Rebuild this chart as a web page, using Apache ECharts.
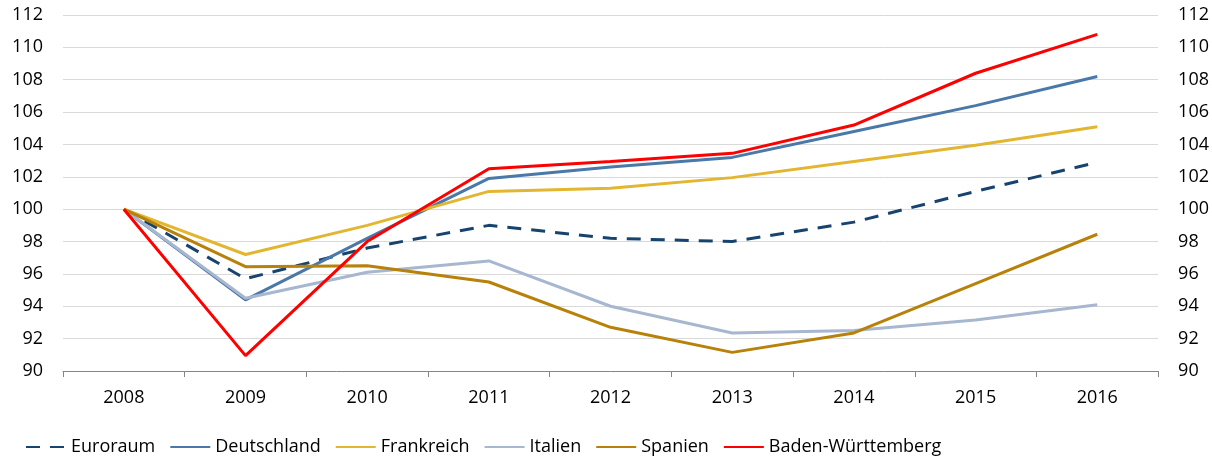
<!doctype html>
<html>
    <head>
        <meta charset="utf-8">
        <title>Wachstum</title>
        <style>
            html, body { margin: 0; padding: 0; background: #fff; }
            #main { width: 1212px; height: 456px; }
        </style>
    </head>
    <body>
        <div id="main"></div>
        <script src="https://cdn.jsdelivr.net/npm/echarts@6/dist/echarts.min.js"></script>
        <script>
            var years = ['2008', '2009', '2010', '2011', '2012', '2013', '2014', '2015', '2016'];

            var euroraum = [100, 95.7, 97.6, 99.0, 98.2, 98.0, 99.2, 101.1, 102.9];
            var deutschland = [100, 94.4, 98.2, 101.9, 102.6, 103.2, 104.8, 106.4, 108.2];
            var frankreich = [100, 97.2, 99.0, 101.1, 101.3, 101.95, 102.95, 103.95, 105.1];
            var italien = [100, 94.5, 96.1, 96.8, 94.0, 92.35, 92.5, 93.15, 94.1];
            var spanien = [100, 96.45, 96.5, 95.5, 92.7, 91.15, 92.35, 95.4, 98.45];
            var badenWuerttemberg = [100, 90.95, 98.0, 102.5, 102.95, 103.45, 105.2, 108.4, 110.8];

            var chart = echarts.init(document.getElementById('main'));

            var font = 'Open Sans';

            function line(name, data, color, type) {
                return {
                    name: name,
                    type: 'line',
                    data: data,
                    symbol: 'none',
                    lineStyle: { color: color, width: 3, type: type || 'solid' },
                    itemStyle: { color: color },
                    emphasis: { disabled: true }
                };
            }

            var yLabel = { color: '#000', fontFamily: font, fontSize: 18, margin: 20 };

            chart.setOption({
                animation: false,
                grid: { left: 63, right: 53, top: 15, bottom: 85 },
                legend: {
                    left: 20,
                    top: 433,
                    itemWidth: 40,
                    itemHeight: 12,
                    itemGap: 14,
                    itemStyle: { opacity: 0 },
                    textStyle: { color: '#000', fontFamily: font, fontSize: 18 },
                    data: ['Euroraum', 'Deutschland', 'Frankreich', 'Italien', 'Spanien', 'Baden-Württemberg']
                },
                xAxis: {
                    type: 'category',
                    data: years,
                    boundaryGap: true,
                    axisLine: { lineStyle: { color: '#868686', width: 1 } },
                    axisTick: { show: true, length: 6, lineStyle: { color: '#868686' } },
                    axisLabel: { color: '#000', fontFamily: font, fontSize: 18, margin: 18 }
                },
                yAxis: [{
                    type: 'value',
                    min: 90,
                    max: 112,
                    interval: 2,
                    axisLine: { show: false },
                    axisTick: { show: false },
                    axisLabel: yLabel,
                    splitLine: { lineStyle: { color: '#d9d9d9', width: 1 } }
                }, {
                    type: 'value',
                    position: 'right',
                    min: 90,
                    max: 112,
                    interval: 2,
                    axisLine: { show: false },
                    axisTick: { show: false },
                    axisLabel: yLabel,
                    splitLine: { show: false }
                }],
                series: [
                    line('Euroraum', euroraum, '#17436f', [14, 10]),
                    line('Deutschland', deutschland, '#4a78a8'),
                    line('Frankreich', frankreich, '#e3b631'),
                    line('Italien', italien, '#a6b7cf'),
                    line('Spanien', spanien, '#b7810a'),
                    line('Baden-Württemberg', badenWuerttemberg, '#ff0000')
                ]
            });

            window.onresize = chart.resize;
        </script>
    </body>
</html>
